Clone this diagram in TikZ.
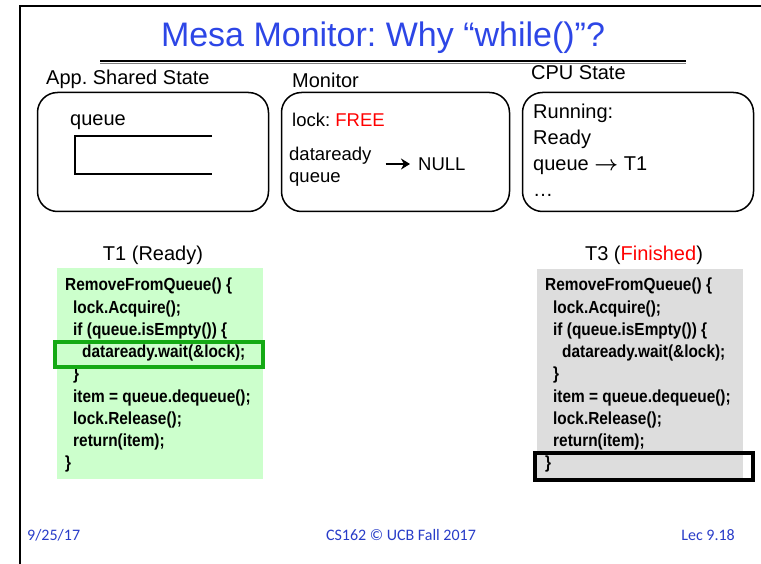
\documentclass[tikz,border=0pt]{standalone}
\usepackage{amsmath}
\usepackage{fontspec}
\setmainfont{Liberation Sans}
\newfontfamily\codefont{Liberation Sans}[FakeStretch=0.88]
\newfontfamily\footfont{Carlito}
\usetikzlibrary{arrows.meta}
\definecolor{TitleBlue}{RGB}{45, 70, 230}
\definecolor{FootBlue}{RGB}{40, 60, 200}
\definecolor{CodeGreen}{RGB}{204, 255, 204}
\definecolor{CodeGray}{RGB}{221, 221, 221}
\definecolor{MarkGreen}{RGB}{20, 170, 20}
\frenchspacing

\begin{document}
\begin{tikzpicture}[x=1pt, y=-1pt,
                head/.style={anchor=west, inner sep=0pt, font=\fontsize{20}{24}\selectfont},
                statebox/.style={draw, line width=1.5pt, rounded corners=20pt, minimum width=230pt, minimum height=119pt, inner sep=0pt},
                txt/.style={anchor=west, inner sep=0pt, align=left, font=\fontsize{18.5}{22}\selectfont},
                codebox/.style={minimum width=206pt, minimum height=211pt, inner sep=0pt},
                code/.style={anchor=north west, inner sep=0pt, align=left, font=\codefont\fontsize{17.5}{22.25}\selectfont\bfseries},
                hilite/.style={draw, line width=4pt, inner sep=0pt},
                foot/.style={inner sep=0pt, text=FootBlue, font=\footfont\fontsize{16}{18}\selectfont}
            ]
                \useasboundingbox (0,0) rectangle (761,564);

                % Slide frame and title
                \draw[line width=2.5pt] (20,564) -- (20,6) -- (761,6);
                \node (title) [inner sep=0pt, text=TitleBlue, font=\fontsize{34}{40}\selectfont] at (383,38) {Mesa Monitor: Why “while()”?};
                \draw[line width=1.2pt] (100,61) -- (686,61);
                \draw[line width=1pt, gray] (100,63.5) -- (686,63.5);

                % State boxes
                \node (hdapp) [head] at (46,79) {App. Shared State};
                \node (hdmon) [head] at (292,80) {Monitor};
                \node (hdcpu) [head] at (531,73) {CPU State};
                \node (app) [statebox, minimum width=231pt] at (153,152) {};
                \node (mon) [statebox, minimum width=228pt] at (395.5,152) {};
                \node (cpu) [statebox, minimum width=231pt] at (638,152) {};

                % App. shared state
                \node (qname) [txt, font=\fontsize{20}{24}\selectfont] at (70,122) {queue};
                \draw[line width=1.5pt] (212,136) -- (75,136) -- (75,174) -- (212,174);

                % Monitor
                \node (lock) [txt] at (292,120) {lock: \textcolor{red}{FREE}};
                \node (dq) [txt] at (289,167) {dataready\\queue};
                \node (null) [txt] at (418,164) {NULL};
                \draw[-{Stealth[length=9pt, width=11pt]}, line width=2.5pt, shorten <=14pt, shorten >=8pt] (dq.east |- null.west) -- (null.west);

                % CPU state
                \node (cpulist) [txt, anchor=north west, font=\fontsize{20}{26}\selectfont] at (533,104) {Running:\\Ready\\queue $\boldsymbol{\rightarrow}$ T1\\\dots};

                % T1
                \node (t1) [inner sep=0pt, font=\fontsize{20}{24}\selectfont] at (153,255) {T1 (Ready)};
                \node (box1) [codebox, fill=CodeGreen] at (160,373.5) {};
                \node (code1) [code] at (65,278) {RemoveFromQueue() \{\\
                    \hspace*{8pt}lock.Acquire();\\
                    \hspace*{8pt}if (queue.isEmpty()) \{\\
                    \hspace*{17pt}dataready.wait(\&lock);\\
                    \hspace*{8pt}\}\\
                    \hspace*{8pt}item = queue.dequeue();\\
                    \hspace*{8pt}lock.Release();\\
                    \hspace*{8pt}return(item);\\
                    \}};
                \node (wait1) [hilite, draw=MarkGreen, minimum width=208pt, minimum height=25pt] at (159,354.5) {};

                % T3
                \node (t3) [inner sep=0pt, font=\fontsize{20}{24}\selectfont] at (644,255) {T3 (\textcolor{red}{Finished})};
                \node (box3) [codebox, fill=CodeGray, minimum height=210pt] at (640,374) {};
                \node (code3) [code] at (545,278) {RemoveFromQueue() \{\\
                    \hspace*{8pt}lock.Acquire();\\
                    \hspace*{8pt}if (queue.isEmpty()) \{\\
                    \hspace*{17pt}dataready.wait(\&lock);\\
                    \hspace*{8pt}\}\\
                    \hspace*{8pt}item = queue.dequeue();\\
                    \hspace*{8pt}lock.Release();\\
                    \hspace*{8pt}return(item);\\
                    \}};
                \node (end3) [hilite, minimum width=218pt, minimum height=27pt] at (644,466.5) {};

                % Footer
                \node (date) [foot, anchor=west] at (27,535) {9/25/17};
                \node (course) [foot] at (401,535) {CS162 © UCB Fall 2017};
                \node (lec) [foot, anchor=east] at (735,535) {Lec 9.18};
            \end{tikzpicture}
\end{document}
